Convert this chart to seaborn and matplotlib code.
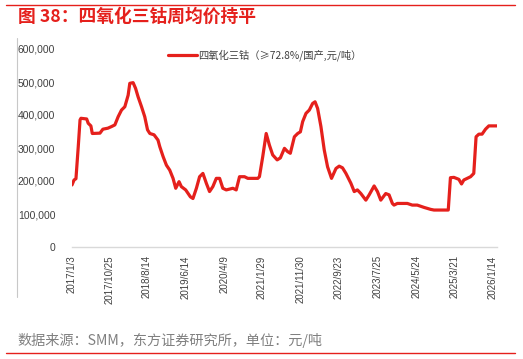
import seaborn as sns
import matplotlib.pyplot as plt
import matplotlib.ticker as mticker
from matplotlib.lines import Line2D
import pandas as pd

# weekly average price of Co3O4 (>=72.8%, domestic), yuan/ton
dates = [
    '2017-01-03', '2017-01-19', '2017-02-03', '2017-02-21', '2017-03-07', '2017-03-14',
    '2017-04-28', '2017-05-10', '2017-05-31', '2017-06-11', '2017-08-10', '2017-09-02',
    '2017-10-11', '2017-11-09', '2017-12-05', '2017-12-31', '2018-01-26', '2018-02-21',
    '2018-03-19', '2018-04-01', '2018-04-27', '2018-05-16', '2018-06-05', '2018-07-02',
    '2018-07-27', '2018-08-18', '2018-09-05', '2018-10-08', '2018-11-08', '2018-11-22',
    '2018-12-18', '2019-01-13', '2019-02-08', '2019-03-06', '2019-03-27', '2019-04-22',
    '2019-05-10', '2019-06-13', '2019-07-20', '2019-08-09', '2019-09-05', '2019-09-30',
    '2019-10-26', '2019-11-22', '2019-12-17', '2020-01-12', '2020-02-08', '2020-03-05',
    '2020-03-30', '2020-04-26', '2020-06-17', '2020-07-13', '2020-08-08', '2020-09-16',
    '2020-10-12', '2020-12-29', '2021-01-11', '2021-02-06', '2021-03-05', '2021-03-30',
    '2021-04-25', '2021-05-30', '2021-06-24', '2021-07-26', '2021-08-20', '2021-09-10',
    '2021-10-12', '2021-11-07', '2021-11-28', '2021-12-16', '2022-01-11', '2022-02-06',
    '2022-03-04', '2022-03-23', '2022-04-12', '2022-05-08', '2022-06-03', '2022-06-29',
    '2022-07-30', '2022-09-03', '2022-09-28', '2022-10-24', '2022-11-20', '2022-12-29',
    '2023-01-24', '2023-02-18', '2023-03-17', '2023-04-25', '2023-05-21', '2023-06-29',
    '2023-07-25', '2023-08-20', '2023-09-28', '2023-10-24', '2023-11-19', '2023-12-02',
    '2023-12-28', '2024-03-15', '2024-04-23', '2024-06-01', '2024-07-24', '2024-09-14',
    '2024-10-10', '2025-01-30', '2025-02-16', '2025-03-15', '2025-04-23', '2025-05-14',
    '2025-06-01', '2025-07-24', '2025-08-18', '2025-09-05', '2025-09-27', '2025-10-22',
    '2025-11-18', '2025-12-14', '2026-02-16',
]
prices = [
    188000, 203000, 207000, 304000, 385000, 390000,
    388000, 375000, 367000, 344000, 345000, 357000,
    360000, 365000, 370000, 395000, 415000, 425000,
    460000, 496000, 498000, 481000, 455000, 425000,
    395000, 355000, 344000, 340000, 324000, 304000,
    274000, 248000, 233000, 208000, 178000, 198000,
    183000, 173000, 152000, 147000, 178000, 213000,
    223000, 193000, 168000, 183000, 208000, 208000,
    178000, 173000, 178000, 173000, 213000, 213000,
    208000, 208000, 213000, 274000, 344000, 309000,
    279000, 264000, 270000, 299000, 289000, 284000,
    334000, 344000, 349000, 380000, 405000, 415000,
    435000, 440000, 420000, 365000, 294000, 243000,
    208000, 238000, 245000, 240000, 223000, 193000,
    168000, 173000, 162000, 142000, 158000, 185000,
    168000, 142000, 162000, 158000, 132000, 127000,
    132000, 132000, 127000, 127000, 120000, 114000,
    112000, 112000, 210000, 211000, 205000, 191000,
    203000, 213000, 223000, 334000, 342000, 342000,
    357000, 367000, 367000,
]
tick_labels = ['2017/1/3', '2017/10/25', '2018/8/14', '2019/6/14', '2020/4/9', '2021/1/29',
               '2021/11/30', '2022/9/23', '2023/7/25', '2024/5/24', '2025/3/21', '2026/1/14']
series_name = '四氧化三钴（≥72.8%/国产,元/吨）'

df = pd.DataFrame({'date': pd.to_datetime(dates), 'price': prices})

sns.set_style('white')
plt.rcParams['font.family'] = ['Liberation Sans', 'Noto Sans CJK SC']
cjk = ['Noto Sans CJK SC', 'DejaVu Sans']
red = '#E5201C'

W, H = 523, 359
fig = plt.figure(figsize=(W / 100, H / 100), dpi=100)
ax = fig.add_axes([72 / W, 1 - 247 / H, (497 - 72) / W, (247 - 49) / H])

sns.lineplot(data=df, x='date', y='price', ax=ax, color=red, linewidth=2.3,
             label=series_name)

ax.set_ylim(0, 600000)
ax.set_yticks(range(0, 600001, 100000))
ax.yaxis.set_major_formatter(mticker.FuncFormatter(lambda v, p: f'{int(v):,}'))
ax.set_xlim(df['date'].iloc[0], df['date'].iloc[-1])
ax.set_xticks(pd.to_datetime(tick_labels, format='%Y/%m/%d'))
ax.set_xticklabels(tick_labels, rotation=90, va='top', ha='center')
ax.tick_params(axis='both', length=0, colors='#404040')
ax.tick_params(axis='y', labelsize=7.5, pad=12)
ax.tick_params(axis='x', labelsize=7, pad=6)
ax.set_xlabel('')
ax.set_ylabel('')
for s in ['top', 'right', 'left']:
    ax.spines[s].set_visible(False)
ax.spines['bottom'].set_color('#D9D9D9')
ax.spines['bottom'].set_linewidth(1)

leg = ax.legend(loc='center', bbox_to_anchor=(265 / W, 1 - 55 / H),
                bbox_transform=fig.transFigure, frameon=False,
                handlelength=2.8, handletextpad=0.1, prop={'family': cjk, 'size': 7.4})
for t in leg.get_texts():
    t.set_color('#404040')

# page decoration
fig.text(18 / W, 1 - 17 / H, '图 38：四氧化三钴周均价持平', family=cjk, fontsize=12.8,
         fontweight='bold', color=red, va='center', ha='left')
fig.text(17 / W, 1 - 340 / H, '数据来源：SMM，东方证券研究所，单位：元/吨', family=cjk,
         fontsize=10.2, color='#808080', va='center', ha='left')
fig.add_artist(Line2D([6 / W, 515 / W], [1 - 5 / H] * 2, color=red, lw=1))
fig.add_artist(Line2D([6 / W, 515 / W], [1 - 353 / H] * 2, color=red, lw=1))
fig.add_artist(Line2D([17 / W] * 2, [1 - 38 / H, 1 - 297 / H], color='#C8C8C8', lw=0.8))

fig.savefig('out.png', dpi=100)
